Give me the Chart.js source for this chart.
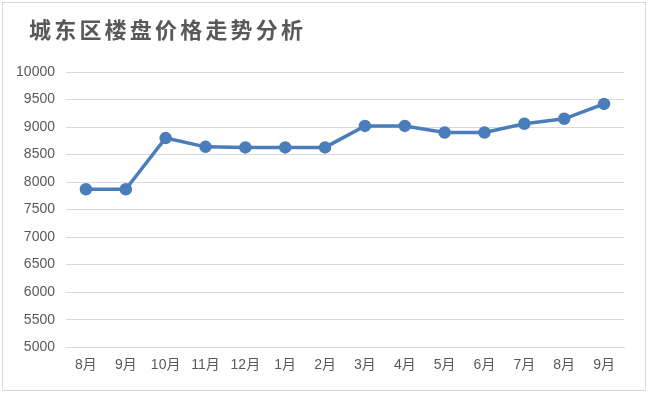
<!DOCTYPE html>
<html>
<head>
<meta charset="utf-8">
<script src="https://cdn.jsdelivr.net/npm/chart.js@4/dist/chart.umd.min.js"></script>
<style>
  body { margin: 0; background: #fff; }
  #box { position: absolute; left: 2px; top: 2px; width: 644px; height: 389px; border: 1px solid #d9d9d9; box-sizing: border-box; }
  #chart { position: absolute; left: 0; top: 0; }
  #title { position: absolute; left: 26px; top: 14px; margin: 0; font-family: "Noto Sans CJK SC"; font-size: 22px; line-height: 22px; font-weight: 600; letter-spacing: 3.2px; color: #595959; }
</style>
</head>
<body>
<div id="box">
  <canvas id="chart" width="642" height="387"></canvas>
  <div id="title">城东区楼盘价格走势分析</div>
</div>
<script>
const months = ['8月', '9月', '10月', '11月', '12月', '1月', '2月', '3月', '4月', '5月', '6月', '7月', '8月', '9月'];
const prices = [7870, 7870, 8800, 8640, 8630, 8630, 8630, 9020, 9020, 8900, 8900, 9060, 9150, 9420];
const yMin = 5000;
const yMax = 10000;
const yStep = 500;

function makeChart(labels, values, elementId) {
    const ctx = document.getElementById(elementId).getContext('2d');
    const data = {
        labels: labels,
        datasets: [{
            label: '价格',
            data: values,
            borderColor: '#4a7ebb',
            backgroundColor: '#4a7ebb',
            borderWidth: 3.5,
            pointRadius: 4.5,
            pointHoverRadius: 4.5,
            tension: 0
        }]
    };
    const config = {
        type: 'line',
        data: data,
        options: {
            responsive: false,
            animation: false,
            layout: { padding: { left: 0, right: 21, top: 69, bottom: 6 } },
            plugins: {
                legend: { display: false },
                tooltip: { enabled: false },
                title: { display: false }
            },
            scales: {
                x: {
                    offset: true,
                    grid: { display: false, drawTicks: false },
                    border: { color: '#d9d9d9' },
                    ticks: {
                        color: '#595959',
                        padding: 10,
                        font: { family: '"Liberation Sans", "Noto Sans CJK SC"', size: 14 }
                    }
                },
                y: {
                    min: yMin,
                    max: yMax,
                    afterFit: (s) => { s.width = 63; },
                    grid: { color: '#d9d9d9', drawTicks: false },
                    border: { display: false },
                    ticks: {
                        stepSize: yStep,
                        color: '#595959',
                        padding: 11,
                        font: { family: '"Liberation Sans"', size: 14 },
                        callback: (v) => String(v)
                    }
                }
            }
        }
    };
    return new Chart(ctx, config);
}

makeChart(months, prices, 'chart');
</script>
</body>
</html>
